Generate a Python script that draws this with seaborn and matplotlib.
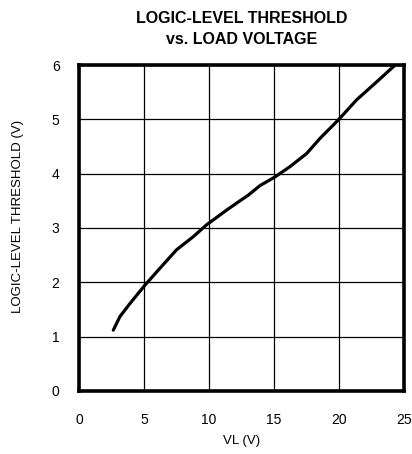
import pandas as pd
import seaborn as sns
import matplotlib.pyplot as plt

# curve
vl = [2.64, 3.15, 3.92, 5.08, 6.23, 7.51, 8.79, 9.82, 11.36, 12.38, 13.0, 13.92,
      15.08, 16.23, 17.51, 18.54, 19.95, 21.36, 22.9, 24.18, 24.35]
threshold = [1.12, 1.37, 1.61, 1.95, 2.26, 2.60, 2.84, 3.06, 3.33, 3.5, 3.6, 3.78,
             3.94, 4.13, 4.37, 4.65, 4.99, 5.36, 5.69, 5.97, 6.0]
x_ticks = [0, 5, 10, 15, 20, 25]
y_ticks = [0, 1, 2, 3, 4, 5, 6]

df = pd.DataFrame({'VL': vl, 'Threshold': threshold})

sns.set_style('white', {'text.color': 'black', 'axes.labelcolor': 'black'})
plt.rcParams['font.family'] = ['Liberation Sans', 'DejaVu Sans']

fig = plt.figure(figsize=(4.12, 4.54), dpi=100)
ax = fig.add_axes([0.1917, 0.1388, 0.7889, 0.718])

sns.lineplot(data=df, x='VL', y='Threshold', ax=ax, color='black', linewidth=2.3)

ax.set_xlim(0, 25)
ax.set_ylim(0, 6)
ax.set_xticks(x_ticks)
ax.set_yticks(y_ticks)
ax.grid(True, color='black', linewidth=0.9)
for s in ax.spines.values():
    s.set_visible(True)
    s.set_color('black')
    s.set_linewidth(2.6)
ax.tick_params(axis='both', length=0, labelsize=10, colors='black')
ax.tick_params(axis='x', pad=16)
ax.tick_params(axis='y', pad=14)

ax.set_xlabel('VL (V)', fontsize=9.5, color='black')
ax.set_ylabel('LOGIC-LEVEL THRESHOLD (V)', fontsize=9.5, color='black')
ax.xaxis.set_label_coords(0.5, -0.136)
ax.yaxis.set_label_coords(-0.17, 0.537)
ax.set_title('LOGIC-LEVEL THRESHOLD\nvs. LOAD VOLTAGE', fontsize=11.5, fontweight='bold',
             linespacing=1.55, pad=15, color='black')

plt.savefig('out.png', dpi=100)
